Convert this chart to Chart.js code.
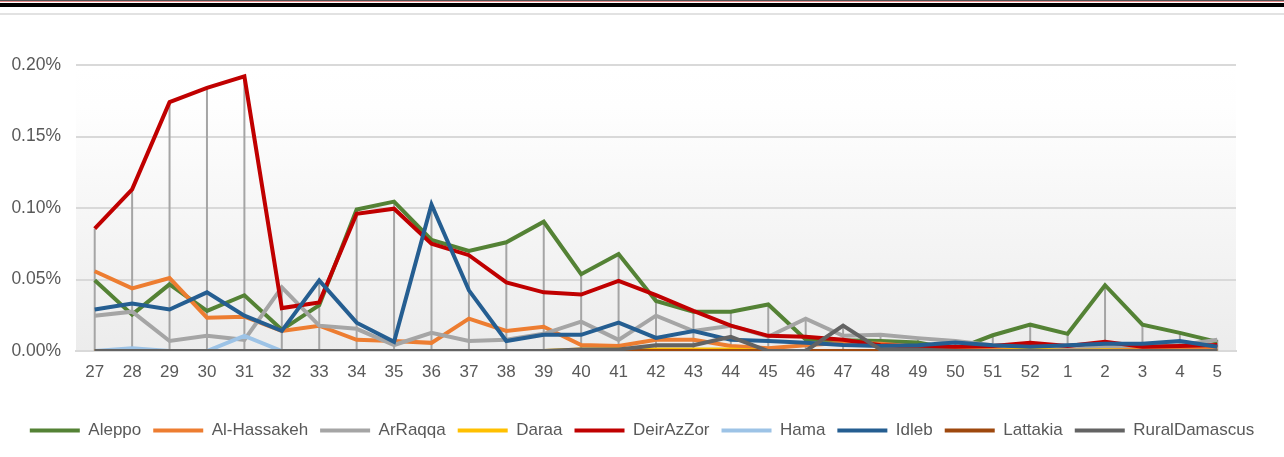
<!DOCTYPE html>
<html>
<head>
<meta charset="utf-8">
<script src="https://cdn.jsdelivr.net/npm/chart.js@4.4.0/dist/chart.umd.min.js"></script>
<style>
  html, body { margin: 0; padding: 0; background: #fff; }
  #wrap { position: relative; width: 1284px; height: 457px; }
  #topline1 { position: absolute; left: 0; top: 0; width: 1284px; height: 1px; background: #555; }
  #topline2 { position: absolute; left: 0; top: 1px; width: 1284px; height: 1px; background: #e88a8a; }
  #topline3 { position: absolute; left: 0; top: 3px; width: 1284px; height: 4px; background: #000; }
  #topline4 { position: absolute; left: 0; top: 13px; width: 1284px; height: 2px; background: #e2e2e2; }
  canvas { position: absolute; left: 0; top: 0; }
</style>
</head>
<body>
<div id="wrap">
  <canvas id="chart" width="1284" height="457"></canvas>
  <div id="topline1"></div>
  <div id="topline2"></div>
  <div id="topline3"></div>
  <div id="topline4"></div>
</div>
<script>
// week numbers
var weeks = ["27","28","29","30","31","32","33","34","35","36","37","38","39","40","41","42","43","44","45","46","47","48","49","50","51","52","1","2","3","4","5"];

// values in percent
var aleppo = [0.0495,0.0254,0.0466,0.028,0.039,0.0148,0.032,0.099,0.1045,0.0777,0.070,0.076,0.0904,0.0537,0.0678,0.035,0.0275,0.0275,0.0325,0.008,0.0075,0.007,0.006,0.001,0.011,0.0184,0.012,0.046,0.0184,0.0127,0.0064];
var alHassakeh = [0.0558,0.0438,0.051,0.0233,0.024,0.014,0.0177,0.0078,0.007,0.0057,0.0226,0.014,0.017,0.0042,0.0035,0.0078,0.0078,0.0035,0.002,0.004,0.0057,0.005,0.003,0.002,0.002,0.002,0.002,0.002,0.002,0.002,0.002];
var arRaqqa = [0.0247,0.0275,0.007,0.0106,0.0078,0.0445,0.0177,0.0155,0.0042,0.0127,0.007,0.0078,0.012,0.0205,0.0078,0.0247,0.014,0.0177,0.010,0.0226,0.0106,0.0113,0.009,0.007,0.004,0.003,0.003,0.003,0.004,0.004,0.0078];
var daraa = [0,0,0,0,0,0,0,0,0,0,0,0,0,0.001,0.001,0.001,0.001,0.001,0,0,0,0,0,0,0,0.001,0,0.0005,0,0,0];
var deirAzZor = [0.0855,0.113,0.174,0.184,0.192,0.030,0.034,0.096,0.0995,0.075,0.067,0.048,0.041,0.0395,0.049,0.039,0.028,0.0177,0.0106,0.0099,0.0078,0.004,0.003,0.003,0.0035,0.0057,0.0035,0.0064,0.003,0.0035,0.0042];
var hama = [0,0.002,0,0,0.0106,0,0,0,0,0,0,0,0,0,0,0,0,0,0,0,0,0,0,0,0,0,0,0,0,0,0];
var idleb = [0.029,0.0332,0.029,0.041,0.0247,0.0141,0.0494,0.0198,0.0064,0.1024,0.0424,0.007,0.0113,0.0113,0.0198,0.0092,0.014,0.0078,0.007,0.0057,0.0042,0.0035,0.004,0.006,0.004,0.003,0.004,0.005,0.005,0.007,0.003];
var lattakia = [0,0,0,0,0,0,0,0,0,0,0,0,0,0,0,0,0,0,0,0,0,0,0,0,0,0,0,0,0,0,0];
var ruralDamascus = [0,0,0,0,0,0,0,0,0,0,0,0,0,0.001,0.001,0.004,0.004,0.0099,0,0,0.0177,0.001,0.001,0,0,0,0,0,0,0,0];

var yTicks = [0, 0.05, 0.10, 0.15, 0.20];

var names = ["Aleppo","Al-Hassakeh","ArRaqqa","Daraa","DeirAzZor","Hama","Idleb","Lattakia","RuralDamascus"];
var colors = ["#548235","#ED7D31","#A5A5A5","#FFC000","#C00000","#9DC3E6","#255E91","#9E480E","#636363"];
var series = [aleppo, alHassakeh, arRaqqa, daraa, deirAzZor, hama, idleb, lattakia, ruralDamascus];

var FONT = 'Liberation Sans, Arial, sans-serif';

var datasets = series.map(function (d, i) {
    return {
        label: names[i],
        data: d,
        borderColor: colors[i],
        backgroundColor: colors[i],
        borderWidth: 4,
        pointRadius: 0,
        tension: 0,
        order: series.length - i
    };
});

// plot area gradient + high-low lines
var plotDeco = {
    id: 'plotDeco',
    beforeDraw: function (chart) {
        var a = chart.chartArea, ctx = chart.ctx;
        var g = ctx.createLinearGradient(0, a.top, 0, a.bottom);
        g.addColorStop(0, '#ffffff');
        g.addColorStop(0.15, '#fefefe');
        g.addColorStop(1, '#ececec');
        ctx.save();
        ctx.fillStyle = g;
        ctx.fillRect(a.left, a.top, a.right - a.left, a.bottom - a.top);
        ctx.restore();
    },
    beforeDatasetsDraw: function (chart) {
        var ctx = chart.ctx, xs = chart.scales.x, ys = chart.scales.y;
        ctx.save();
        ctx.strokeStyle = '#A5A5A5';
        ctx.lineWidth = 2;
        for (var j = 0; j < weeks.length; j++) {
            var vals = series.map(function (s) { return s[j]; });
            var x = xs.getPixelForValue(j);
            ctx.beginPath();
            ctx.moveTo(x, ys.getPixelForValue(Math.max.apply(null, vals)));
            ctx.lineTo(x, ys.getPixelForValue(Math.min.apply(null, vals)));
            ctx.stroke();
        }
        ctx.restore();
    }
};

var ctx = document.getElementById("chart").getContext("2d");
new Chart(ctx, {
    type: 'line',
    data: { labels: weeks, datasets: datasets },
    plugins: [plotDeco],
    options: {
        responsive: false,
        animation: false,
        layout: { padding: { top: 65, right: 0, left: 0, bottom: 8 } },
        plugins: {
            tooltip: { enabled: false },
            legend: {
                position: 'bottom',
                labels: {
                    color: '#595959',
                    font: { family: FONT, size: 17 },
                    boxWidth: 50,
                    boxHeight: 4,
                    padding: 12,
                    sort: function (a, b) { return a.datasetIndex - b.datasetIndex; },
                    generateLabels: function (chart) {
                        var items = Chart.defaults.plugins.legend.labels.generateLabels(chart);
                        items.forEach(function (it) { it.lineWidth = 0; });
                        return items;
                    }
                }
            }
        },
        scales: {
            x: {
                offset: true,
                grid: { display: false, drawTicks: false },
                border: { color: '#d9d9d9', width: 2 },
                ticks: {
                    color: '#595959',
                    font: { family: FONT, size: 17 },
                    padding: 11,
                    maxRotation: 0,
                    autoSkip: false
                },
                afterFit: function (scale) { scale.height = 59; }
            },
            y: {
                min: 0,
                max: 0.20,
                afterBuildTicks: function (scale) {
                    scale.ticks = yTicks.map(function (v) { return { value: v }; });
                },
                grid: { color: '#d9d9d9', lineWidth: 2, drawTicks: false },
                border: { display: false },
                ticks: {
                    color: '#595959',
                    font: { family: FONT, size: 17.5 },
                    padding: 15,
                    callback: function (v) { return v.toFixed(2) + '%'; }
                },
                afterFit: function (scale) { scale.width = 76; }
            },
            // empty right margin
            yr: {
                position: 'right',
                min: 0,
                max: 0.20,
                grid: { display: false, drawTicks: false },
                border: { display: false },
                ticks: { display: false },
                afterFit: function (scale) { scale.width = 48; }
            }
        }
    }
});
</script>
</body>
</html>
